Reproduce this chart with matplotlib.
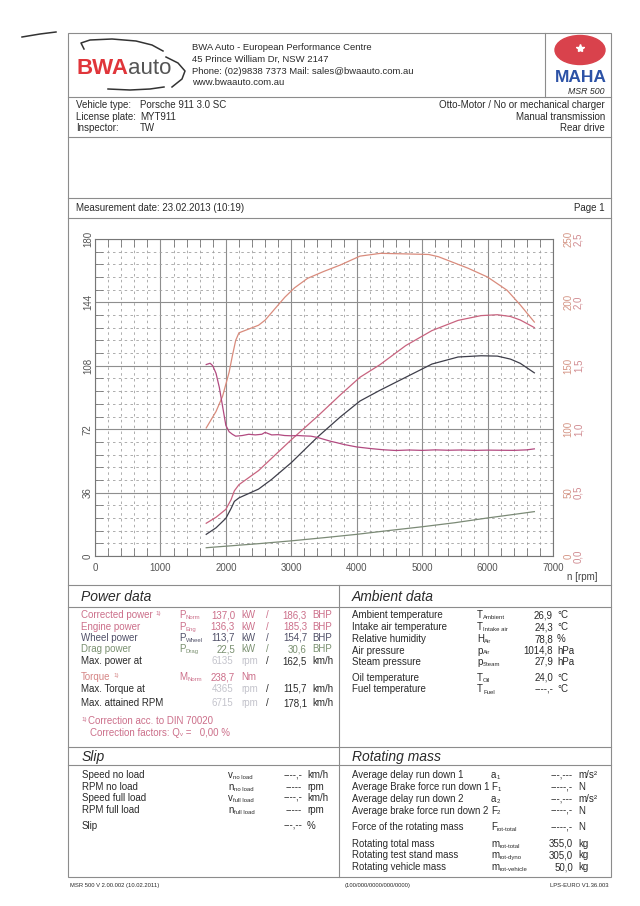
import matplotlib
matplotlib.use("Agg")
import matplotlib.pyplot as plt
from matplotlib.patches import Ellipse, Rectangle
from matplotlib.ticker import MultipleLocator, FixedLocator

plt.rcParams["font.family"] = ["Liberation Sans", "DejaVu Sans"]

# ---- curve data ----
rpm_power = [1700, 1850, 2000, 2080, 2130, 2200, 2350, 2500, 2700, 3000, 3400,
             3750, 4050, 4350, 4750, 5150, 5550, 5900, 6150, 6350, 6500, 6715]
p_norm = [18.6, 22.0, 26.5, 32.0, 37.0, 40.5, 44.5, 48.5, 55.5, 66.0, 79.3,
          91.5, 101.5, 108.5, 119.5, 128.0, 133.8, 136.5, 137.0, 136.0, 134.0, 129.7]
p_wheel = [12.3, 16.0, 21.4, 27.0, 31.0, 33.0, 35.5, 38.0, 43.5, 53.0, 67.5,
           79.0, 88.0, 94.0, 101.5, 109.0, 113.0, 113.7, 113.5, 111.8, 109.4, 104.0]

rpm_drag = [1700, 2500, 3000, 3500, 4000, 4500, 5000, 5500, 6000, 6400, 6715]
p_drag = [4.7, 7.0, 8.6, 10.4, 12.3, 14.5, 16.6, 18.9, 21.6, 23.6, 25.2]

rpm_torque = [1700, 1850, 1950, 2050, 2100, 2150, 2200, 2350, 2500, 2600, 2750,
              2900, 3050, 3250, 3500, 3750, 4050, 4365, 4700, 5100, 5250, 5400,
              5700, 6000, 6300, 6500, 6715]
torque = [101, 114, 126, 145, 158, 170, 176, 179, 182, 186, 195,
          204, 211.5, 219, 224.5, 229.5, 236.5, 238.7, 238.3, 237.8, 236, 233,
          227, 220, 209.5, 198, 184.5]

rpm_lambda = [1700, 1760, 1800, 1850, 1900, 1950, 2000, 2050, 2100, 2150, 2250,
              2350, 2450, 2550, 2600, 2700, 2800, 2900, 3000, 3100, 3200, 3300,
              3400, 3500, 3600, 3700, 3800, 3900, 4000, 4200, 4400, 4600, 4800,
              5000, 5200, 5400, 5600, 5800, 6000, 6200, 6400, 6600, 6715]
lambda_af = [1.51, 1.52, 1.50, 1.44, 1.33, 1.18, 1.03, 0.98, 0.96, 0.945, 0.95,
             0.96, 0.955, 0.96, 0.975, 0.955, 0.957, 0.95, 0.948, 0.95, 0.947, 0.945,
             0.935, 0.92, 0.905, 0.893, 0.88, 0.87, 0.86, 0.848, 0.838, 0.832, 0.836,
             0.833, 0.837, 0.834, 0.836, 0.833, 0.835, 0.834, 0.833, 0.837, 0.845]

x_ticks = [0, 1000, 2000, 3000, 4000, 5000, 6000, 7000]
kw_ticks = [0, 36, 72, 108, 144, 180]
nm_ticks = [0, 50, 100, 150, 200, 250]
lambda_ticks = [0.0, 0.5, 1.0, 1.5, 2.0, 2.5]

legend_labels = [("P-wheel [kW]", None), ("P-drag [kW]", None), ("P-norm [kW]", None),
                 ("M", "Norm", " [Nm]"), ("LAMBDA A/F [LAMBDA]", None)]

# ---- table contents ----
power_rows = [
    ("Corrected power", "1)", "P", "Norm", "137,0", "kW", "186,3", "BHP"),
    ("Engine power", "", "P", "Eng", "136,3", "kW", "185,3", "BHP"),
    ("Wheel power", "", "P", "Wheel", "113,7", "kW", "154,7", "BHP"),
    ("Drag power", "", "P", "Drag", "22,5", "kW", "30,6", "BHP"),
]
max_rows = [
    ("Max. power at", "6135", "162,5"),
    ("Max. Torque at", "4365", "115,7"),
    ("Max. attained RPM", "6715", "178,1"),
]
torque_row = ("Torque", "1)", "M", "Norm", "238,7", "Nm")

ambient_rows = [
    ("Ambient temperature", "T", "Ambient", "26,9", "°C"),
    ("Intake air temperature", "T", "Intake air", "24,3", "°C"),
    ("Relative humidity", "H", "Air", "78,8", "%"),
    ("Air pressure", "p", "Air", "1014,8", "hPa"),
    ("Steam pressure", "p", "Steam", "27,9", "hPa"),
    ("Oil temperature", "T", "Oil", "24,0", "°C"),
    ("Fuel temperature", "T", "Fuel", "----,-", "°C"),
]
slip_rows = [
    ("Speed no load", "v", "no load", "----,-", "km/h"),
    ("RPM no load", "n", "no load", "-----", "rpm"),
    ("Speed full load", "v", "full load", "----,-", "km/h"),
    ("RPM full load", "n", "full load", "-----", "rpm"),
    ("Slip", "", "", "---,--", "%"),
]
rot_rows = [
    ("Average delay run down 1", "a", "1", "---,---", "m/s²"),
    ("Average Brake force run down 1", "F", "1", "-----,-", "N"),
    ("Average delay run down 2", "a", "2", "---,---", "m/s²"),
    ("Average brake force run down 2", "F", "2", "-----,-", "N"),
    ("Force of the rotating mass", "F", "rot-total", "-----,-", "N"),
    ("Rotating total mass", "m", "rot-total", "355,0", "kg"),
    ("Rotating test stand mass", "m", "rot-dyno", "305,0", "kg"),
    ("Rotating vehicle mass", "m", "rot-vehicle", "50,0", "kg"),
]

C_WHEEL = "#3e3e4a"
C_DRAG = "#7b8a76"
C_NORM = "#c8637f"
C_TORQUE = "#d98b7c"
C_LAMBDA = "#b24a80"
LEG_COLORS = ["#5a5a78", "#7f9478", "#c06080", "#d88878", "#b8508a"]
C_PINK = "#cc6f8a"
C_LINE = "#8c8c8c"
C_TEXT = "#2a2a2a"
C_FAINT = "#c4c4cc"

fig = plt.figure(figsize=(6.4, 9.06), dpi=100, facecolor="white")
page = fig.add_axes([0, 0, 1, 1])
page.set_xlim(0, 640)
page.set_ylim(906, 0)
page.axis("off")
renderer = fig.canvas.get_renderer()


def txt(x, y, s, size=7, color=C_TEXT, **kw):
    return page.text(x, y, s, fontsize=size, color=color, va="center", **kw)


def after(t, s, dy=0, size=7, color=C_TEXT, gap=0.5, **kw):
    bb = t.get_window_extent(renderer)
    x, y = page.transData.inverted().transform((bb.x1, (bb.y0 + bb.y1) / 2))
    return page.text(x + gap, y + dy, s, fontsize=size, color=color, va="center", **kw)


def sym(x, y, main, sub, color=C_TEXT, size=7):
    t = txt(x, y, main, size=size, color=color)
    if sub:
        after(t, sub, dy=2.5, size=size * 0.62, color=color, gap=0.2)


def hl(y, x0=68, x1=611):
    page.plot([x0, x1], [y, y], color=C_LINE, lw=0.8)


def vl(x, y0, y1):
    page.plot([x, x], [y0, y1], color=C_LINE, lw=0.8)


# page frame
page.add_patch(Rectangle((68, 33), 543, 844, fill=False, ec=C_LINE, lw=0.8))
for y in (97, 137, 198, 218, 585, 607, 747, 765):
    hl(y)
vl(545, 33, 97)
vl(339, 585, 877)
page.plot([22, 40, 56], [37, 34, 32], color="#333333", lw=1.1)

# BWA logo
t = page.text(76, 69, "BWA", fontsize=16, color="#e0353a", weight="bold", va="center")
after(t, "auto", size=16, color="#555555", gap=0)
page.plot([84, 81, 90, 112, 136, 152, 163], [49, 43, 40, 39, 41, 45, 51], color="#333", lw=1.1)
page.plot([166, 178, 185, 182, 172], [57, 63, 71, 79, 87], color="#333", lw=1.1)
page.plot([108, 130, 150, 164], [89, 90, 89, 87], color="#333", lw=1.1)

# company lines
for yy, s in zip((48, 59.5, 71, 82.5), ("BWA Auto - European Performance Centre",
                                         "45 Prince William Dr, NSW 2147",
                                         "Phone: (02)9838 7373 Mail: sales@bwaauto.com.au",
                                         "www.bwaauto.com.au")):
    txt(192, yy, s, size=6.8)

# MAHA logo
page.add_patch(Ellipse((580, 50), 50, 29, color="#d9424c"))
page.plot([580], [48], marker="*", color="white", ms=6)
page.text(581, 78, "MAHA", fontsize=12.5, color="#2c52a6", weight="bold", ha="center",
          va="center")
page.text(586, 92, "MSR 500", fontsize=6.3, color=C_TEXT, style="italic", ha="center", va="center")

# vehicle block
for yy, a, b in zip((104.5, 116.5, 128), ("Vehicle type:", "License plate:", "Inspector:"),
                    ("Porsche 911 3.0 SC", "MYT911", "TW")):
    txt(76, yy, a)
    txt(140, yy, b)
for yy, s in zip((104.5, 116.5, 128), ("Otto-Motor / No or mechanical charger",
                                        "Manual transmission", "Rear drive")):
    txt(605, yy, s, ha="right")
txt(76, 208, "Measurement date: 23.02.2013 (10:19)")
txt(605, 208, "Page 1", ha="right")

# ---- chart ----
ax = fig.add_axes([95 / 640, (906 - 556) / 906, 458 / 640, 317 / 906])
ax.set_xlim(0, 7000)
ax.set_ylim(0, 180)
ax.xaxis.set_major_locator(FixedLocator(x_ticks))
ax.xaxis.set_minor_locator(MultipleLocator(200))
ax.yaxis.set_major_locator(FixedLocator(kw_ticks))
ax.yaxis.set_minor_locator(MultipleLocator(7.2))
ax.grid(which="major", color="#8e8e8e", lw=0.8)
ax.grid(which="minor", color="#a0a0a0", lw=0.6, ls=(0, (3, 4)))
ax.set_axisbelow(True)
ax.tick_params(which="major", length=0, labelsize=7, labelcolor="#555555")
ax.tick_params(axis="x", which="major", pad=5)
ax.tick_params(axis="y", which="major", pad=1.5)
ax.tick_params(which="minor", direction="in", length=5.5, width=0.6, color="#777777",
               top=True, bottom=True, left=True, right=False)
for lab in ax.get_yticklabels():
    lab.set_rotation(90)
    lab.set_va("center")
for s in ax.spines.values():
    s.set_color("#777777")
    s.set_linewidth(0.8)

ax.plot(rpm_drag, p_drag, color=C_DRAG, lw=0.9)
ax.plot(rpm_power, p_wheel, color=C_WHEEL, lw=0.9)
ax.plot(rpm_power, p_norm, color=C_NORM, lw=0.9)

ax_t = ax.twinx()
ax_t.set_ylim(0, 250)
ax_t.set_yticks(nm_ticks)
ax_t.tick_params(length=0, pad=7.6, labelsize=7, labelcolor="#d49484")
for lab in ax_t.get_yticklabels():
    lab.set_rotation(90)
    lab.set_va("center")
ax_t.plot(rpm_torque, torque, color=C_TORQUE, lw=0.9)

ax_l = ax.twinx()
ax_l.set_ylim(0, 2.5)
ax_l.set_yticks(lambda_ticks)
ax_l.set_yticklabels([f"{v:.1f}".replace(".", ",") for v in lambda_ticks])
ax_l.tick_params(length=0, pad=14.8, labelsize=7, labelcolor="#d08a90")
for lab in ax_l.get_yticklabels():
    lab.set_rotation(90)
    lab.set_va("center")
ax_l.plot(rpm_lambda, lambda_af, color=C_LAMBDA, lw=0.9)
for a in (ax_t, ax_l):
    for s in a.spines.values():
        s.set_visible(False)

txt(567, 577, "n [rpm]", size=7, color="#444444")

# legend
page.add_patch(Rectangle((101, 249), 111, 62, fc="white", ec="#9a9a9a", lw=0.8, zorder=5))
for i, (lab, col) in enumerate(zip(legend_labels, LEG_COLORS)):
    yy = 258 + i * 11
    if lab[1] is None:
        txt(104, yy, lab[0], color=col, zorder=6)
    else:
        t = txt(104, yy, lab[0], color=col, zorder=6)
        t2 = after(t, lab[1], dy=2.5, size=4.3, color=col, gap=0.2, zorder=6)
        after(t2, lab[2], dy=-2.5, color=col, gap=0, zorder=6)

# ---- section headings ----
txt(81, 597, "Power data", size=10, style="italic")
txt(352, 597, "Ambient data", size=10, style="italic")
txt(82, 757, "Slip", size=10, style="italic")
txt(352, 757, "Rotating mass", size=10, style="italic")

# ---- power data ----
row_cols = [C_PINK, C_PINK, "#505068", "#7a9070"]
for (lab, sup, m, sub, v1, u1, v2, u2), yy, col in zip(power_rows, (615, 626.5, 638, 649.5), row_cols):
    t = txt(81, yy, lab, color=col)
    if sup:
        after(t, sup, dy=-1, size=4.5, color=col, gap=3)
    sym(179, yy, m, sub, color=col)
    txt(235, yy, v1, color=col, ha="right")
    txt(241, yy, u1, color=col)
    txt(267, yy, "/", color=col, ha="center")
    txt(307, yy, v2, color=col, ha="right")
    txt(312, yy, u2, color=col)

lab, sup, m, sub, v1, u1 = torque_row
t = txt(81, 677, lab, color="#d58585")
after(t, sup, dy=-1, size=4.5, color="#d58585", gap=3)
sym(179, 677, m, sub, color=C_PINK)
txt(235, 677, v1, color=C_PINK, ha="right")
txt(241, 677, u1, color=C_PINK)

for (lab, rpm, kmh), yy in zip(max_rows, (661, 688.5, 703)):
    txt(81, yy, lab)
    txt(233, yy, rpm, color=C_FAINT, ha="right")
    txt(241, yy, "rpm", color=C_FAINT)
    txt(267, yy, "/", ha="center")
    txt(307, yy, kmh, ha="right")
    txt(312, yy, "km/h")

t = txt(81, 720, "1)", size=4.5, color=C_PINK)
after(t, "Correction acc. to DIN 70020", dy=1, color=C_PINK, gap=1)
t = txt(90, 732.5, "Correction factors: Q", color=C_PINK)
t2 = after(t, "v", dy=2.5, size=4.3, color=C_PINK, gap=0.2)
after(t2, " =   0,00 %", dy=-2.5, color=C_PINK, gap=0)

# ---- ambient data ----
for (lab, m, sub, v, u), yy in zip(ambient_rows, (615, 627, 639, 650.5, 662, 678, 689.5)):
    txt(352, yy, lab)
    sym(477, yy, m, sub)
    txt(553, yy, v, ha="right")
    txt(557, yy, u)

# ---- slip ----
for (lab, m, sub, v, u), yy in zip(slip_rows, (775, 787, 798, 810, 826)):
    txt(82, yy, lab)
    if m:
        sym(228, yy, m, sub)
    txt(302, yy, v, ha="right")
    txt(307, yy, u)

# ---- rotating mass ----
for (lab, m, sub, v, u), yy in zip(rot_rows, (775, 787, 799, 810.5, 827, 844, 855.5, 867)):
    txt(352, yy, lab, size=6.9)
    sym(491, yy, m, sub)
    txt(573, yy, v, ha="right")
    txt(578, yy, u)

# footer
txt(70, 885.5, "MSR 500 V 2.00.002 (10.02.2011)", size=4.2)
txt(345, 885.5, "(100/000/0000/000/0000)", size=4.2)
txt(608, 885.5, "LPS-EURO V1.36.003", size=4.2, ha="right")

fig.savefig("out.png", dpi=100, facecolor="white")
